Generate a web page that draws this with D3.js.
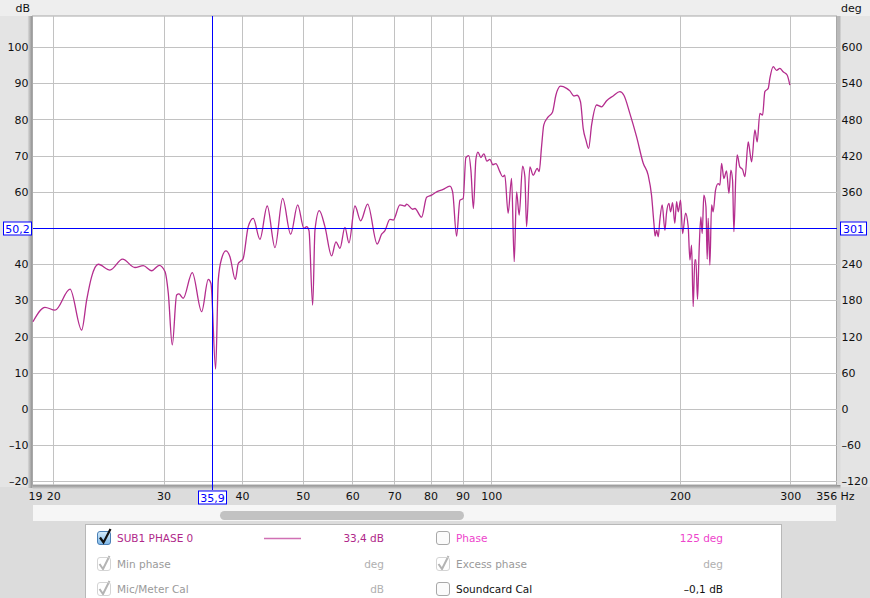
<!DOCTYPE html>
<html><head><meta charset="utf-8">
<script src="https://cdn.jsdelivr.net/npm/d3@7/dist/d3.min.js"></script>
<style>
html,body{margin:0;padding:0;background:#e6e6e6;overflow:hidden;}
svg{display:block;font-family:"DejaVu Sans",sans-serif;}
</style></head><body>
<svg id="c" width="870" height="598"></svg>
<script>
// ---------- data ----------
const freqHz = [18.56,19.4,20.13,21.27,22.2,22.61,23.03,23.6,24.63,25.8,27.0,27.84,28.71,29.52,30.15,30.52,30.97,31.47,31.74,32.24,33.33,34.5,35.35,35.7,36.32,36.67,37.13,37.72,38.28,39.04,39.47,39.71,40.15,40.94,41.7,42.74,43.9,45.17,46.46,47.85,49.1,50.24,50.75,51.18,51.88,52.32,53.15,54.27,55.62,56.51,57.35,58.41,59.28,60.6,61.88,63.49,65.77,66.84,67.66,68.91,69.75,71.49,72.81,73.27,74.9,75.54,77.42,78.86,80.32,81.81,83.81,85.9,86.76,88.04,89.12,90.2,91.1,92.11,92.79,93.65,94.51,95.21,96.26,97.33,98.41,99.5,100.6,101.7,103.2,104.25,105.1,106.4,107.75,108.8,109.75,110.8,112.2,113.15,113.86,115.25,116.65,118.4,119.25,120.3,121.3,123.26,125.27,126.8,129.0,131.9,133.5,135.5,137.1,138.8,140.2,141.6,143.0,144.6,147.3,150.0,152.8,156.5,160.4,162.8,166.4,170.6,174.8,178.0,180.2,181.8,182.6,183.6,184.7,185.8,187.4,189.3,190.4,192.1,193.3,194.7,196.3,197.6,198.8,200.5,202.0,204.2,206.2,207.5,208.8,210.0,211.3,212.1,213.4,214.7,216.0,217.1,218.4,220.1,221.1,221.9,223.3,224.7,226.0,228.0,230.2,231.7,233.1,235.1,237.4,239.5,241.2,242.7,243.9,245.7,246.9,249.3,251.8,254.0,257.1,258.0,260.3,263.5,265.7,268.3,271.0,273.3,276.7,278.4,281.8,285.3,288.8,292.3,296.6,299.6];
const levelDb = [24.1,28.1,27.3,33.1,21.8,30.1,36.6,40.0,38.4,41.4,39.1,39.6,38.2,39.7,38.0,32.0,17.7,31.5,31.8,30.6,37.7,26.9,35.8,34.7,11.0,35.6,41.6,43.7,42.1,35.8,40.2,40.7,41.4,50.4,52.7,46.9,56.1,44.6,58.2,48.3,56.4,49.9,50.4,49.3,28.7,49.4,54.8,50.4,42.3,46.2,44.4,50.2,45.9,56.1,52.0,56.6,45.6,48.3,49.3,52.4,52.2,56.4,56.1,56.6,55.2,55.4,53.0,58.5,59.1,60.0,60.7,61.6,60.0,47.8,57.7,58.2,69.5,70.0,66.0,55.4,69.0,71.0,69.5,70.5,68.5,69.0,67.5,67.8,65.6,64.2,64.6,54.1,63.7,40.7,60.0,53.6,67.1,64.2,50.4,66.9,64.6,66.5,65.6,72.5,78.5,80.7,82.1,86.7,89.2,88.6,87.9,86.5,86.7,84.9,77.5,74.3,72.0,78.5,84.0,83.5,85.2,86.5,87.7,86.7,81.7,75.2,67.9,64.6,59.1,51.3,47.8,49.4,47.6,52.2,56.4,49.4,54.1,56.8,54.5,57.0,51.3,57.3,54.5,57.7,48.5,54.1,50.4,41.2,45.3,28.3,41.2,41.2,30.3,44.4,53.1,48.5,59.1,55.9,41.4,52.7,39.8,56.4,54.5,60.5,62.3,61.9,67.9,63.7,65.8,59.6,66.0,63.3,49.0,65.1,70.2,66.9,66.2,64.2,73.8,72.5,68.3,77.1,73.8,81.7,81.2,87.7,88.6,91.4,94.6,93.6,94.1,93.2,92.3,89.5];
const dbTicks = [-20,-10,0,10,20,30,40,50,60,70,80,90,100];
const degTicks = [-120,-60,0,60,120,180,240,300,360,420,480,540,600];
const freqGrid = [20,30,40,50,60,70,80,90,100,200,300];
const freqLabels = [19,20,30,40,50,60,70,80,90,100,200,300,356];
const cursorHz = 35.9, cursorHzLabel = "35,9";
const cursorDb = 50.2, cursorDbLabel = "50,2", cursorDegLabel = "301";
const legendRows = [
  {check:"blue", name:"SUB1 PHASE 0", nameColor:"#b0288a", sample:true, value:"33,4 dB", valueColor:"#b0288a",
   check2:"box", name2:"Phase", name2Color:"#ee44cc", value2:"125 deg", value2Color:"#ee44cc"},
  {check:"grey", name:"Min phase", nameColor:"#9a9a9a", sample:false, value:"deg", valueColor:"#b0b0b0",
   check2:"grey", name2:"Excess phase", name2Color:"#9a9a9a", value2:"deg", value2Color:"#b0b0b0"},
  {check:"grey", name:"Mic/Meter Cal", nameColor:"#9a9a9a", sample:false, value:"dB", valueColor:"#b0b0b0",
   check2:"box", name2:"Soundcard Cal", name2Color:"#111", value2:"\u20130,1 dB", value2Color:"#111"}
];

// ---------- layout ----------
const svg = d3.select("#c");
const L=32.5, R=836.5, T=16, B=485;
const x = d3.scaleLog().domain([18.53,355.6]).range([L,R]);
const y = d3.scaleLinear().domain([-21,108.6]).range([B,T]);
const yDeg = d3.scaleLinear().domain([-126,651.6]).range([B,T]);
const fmtSigned = d => d<0 ? "\u2013"+(-d) : String(d);

// backgrounds
svg.append("rect").attr("x",0).attr("y",0).attr("width",870).attr("height",598).attr("fill","#e4e4e4");
svg.append("rect").attr("x",0).attr("y",0).attr("width",870).attr("height",16).attr("fill","#eeeeee");
svg.append("rect").attr("x",0).attr("y",487).attr("width",870).attr("height",111).attr("fill","#dcdcdc");
// scroll track
svg.append("rect").attr("x",33).attr("y",505).attr("width",803).attr("height",16).attr("fill","#f6f6f6");
svg.append("rect").attr("x",220).attr("y",511).attr("width",244).attr("height",9).attr("rx",4.5).attr("fill","#c2c2c2");

// plot shadows
const defs = svg.append("defs");
const gL = defs.append("linearGradient").attr("id","shL").attr("x1","0").attr("x2","1");
gL.append("stop").attr("offset","0").attr("stop-color","#e0e0e0");
gL.append("stop").attr("offset","1").attr("stop-color","#8c8c8c");
const gB = defs.append("linearGradient").attr("id","shB").attr("x1","0").attr("x2","0").attr("y1","0").attr("y2","1");
gB.append("stop").attr("offset","0").attr("stop-color","#8c8c8c");
gB.append("stop").attr("offset","1").attr("stop-color","#d8d8d8");
svg.append("rect").attr("x",L-5).attr("y",T).attr("width",5).attr("height",B-T+3).attr("fill","url(#shL)");
svg.append("rect").attr("x",L).attr("y",B).attr("width",R-L+4).attr("height",4).attr("fill","url(#shB)");
svg.append("rect").attr("x",R).attr("y",T).attr("width",4).attr("height",B-T).attr("fill","url(#shB)").attr("opacity",0.5);

// plot area
svg.append("rect").attr("x",L).attr("y",T).attr("width",R-L).attr("height",B-T)
  .attr("fill","#fff").attr("stroke","#a8a8a8").attr("stroke-width",1);

// grid
const grid = svg.append("g").attr("stroke","#c2c2c2").attr("stroke-width",1).attr("shape-rendering","crispEdges");
grid.selectAll(".h").data(dbTicks).join("line")
  .attr("x1",L).attr("x2",R).attr("y1",d=>Math.round(y(d))+0.5).attr("y2",d=>Math.round(y(d))+0.5);
grid.selectAll(".v").data(freqGrid).join("line")
  .attr("y1",T).attr("y2",B).attr("x1",d=>Math.round(x(d))+0.5).attr("x2",d=>Math.round(x(d))+0.5);

// curve
const pts = freqHz.map((f,i)=>[f,levelDb[i]]);
const line = d3.line().x(d=>x(d[0])).y(d=>y(d[1])).curve(d3.curveMonotoneX);
svg.append("path").attr("d",line(pts)).attr("fill","none").attr("stroke","#b42d8e").attr("stroke-width",1.3)
  .attr("stroke-linejoin","round");

// cursors (drawn on top, crisp)
const cx = Math.round(x(cursorHz))+0.5, cy = Math.round(y(cursorDb)+0.6)+0.5;
const cur = svg.append("g").attr("stroke","#0000ff").attr("stroke-width",1).attr("shape-rendering","crispEdges");
cur.append("line").attr("x1",L).attr("x2",R).attr("y1",cy).attr("y2",cy);
cur.append("line").attr("x1",cx).attr("x2",cx).attr("y1",T).attr("y2",B+5);

// axes (labels hidden by cursor boxes are skipped)
const fs = 11;
const axL = svg.append("g").attr("transform",`translate(${L-4},0)`)
  .call(d3.axisLeft(y).tickValues(dbTicks.filter(d=>Math.abs(y(d)-cy)>8)).tickSize(0).tickPadding(0).tickFormat(fmtSigned));
const axR = svg.append("g").attr("transform",`translate(${R+5},0)`)
  .call(d3.axisRight(yDeg).tickValues(degTicks.filter(d=>Math.abs(yDeg(d)-cy)>8)).tickSize(0).tickPadding(0).tickFormat(fmtSigned));
const axB = svg.append("g").attr("transform",`translate(0,${B+7})`)
  .call(d3.axisBottom(x).tickValues(freqLabels).tickSize(0).tickPadding(0).tickFormat(d3.format("d")));
[axL,axR,axB].forEach(a=>{a.select(".domain").remove();a.selectAll("text").attr("fill","#111").style("font-size",fs+"px").style("font-family","'DejaVu Sans',sans-serif");});
axB.selectAll(".tick").filter(d=>d===19).select("text").attr("text-anchor","start").attr("x",28-x(19));
axB.selectAll(".tick").filter(d=>d===356).select("text").attr("text-anchor","end").attr("x",0);
svg.append("text").attr("x",R+4).attr("y",B+15).attr("font-size",fs).attr("fill","#111").text("Hz");
svg.append("text").attr("x",30).attr("y",12).attr("text-anchor","end").attr("font-size",fs).attr("fill","#111").text("dB");
svg.append("text").attr("x",841).attr("y",12).attr("font-size",fs).attr("fill","#111").text("deg");

// cursor labels
function boxLabel(x0, yc, w, txt){
  svg.append("rect").attr("x",x0).attr("y",yc-6.5).attr("width",w).attr("height",13)
    .attr("fill","#fff").attr("stroke","#0000ff").attr("stroke-width",1);
  svg.append("text").attr("x",x0+w/2).attr("y",yc+4).attr("text-anchor","middle")
    .attr("font-size",fs).attr("fill","#0000ff").text(txt);
}
boxLabel(3.5, cy, 28, cursorDbLabel);
boxLabel(840.5, cy, 26, cursorDegLabel);
boxLabel(cx-14, B+12.5, 28, cursorHzLabel);

// legend panel
svg.append("rect").attr("x",85.5).attr("y",524.5).attr("width",696).attr("height",80)
  .attr("fill","#fff").attr("stroke","#b8b8b8");
const rowY = [538, 564, 589];
const gg=defs.append("linearGradient").attr("id","cbBlue").attr("x1",0).attr("x2",0).attr("y1",0).attr("y2",1);
gg.append("stop").attr("offset",0).attr("stop-color","#d6ecfb");gg.append("stop").attr("offset",1).attr("stop-color","#7fb8e8");
function drawCheck(g, kind, x0, yc){
  if(kind==="blue"){
    g.append("rect").attr("x",x0).attr("y",yc-6.5).attr("width",13).attr("height",13).attr("rx",2.5)
      .attr("fill","url(#cbBlue)").attr("stroke","#4a7fb5");
    g.append("path").attr("d",`M${x0+2.5},${yc-0.5} L${x0+6},${yc+4.5} L${x0+13},${yc-9}`)
      .attr("fill","none").attr("stroke","#111").attr("stroke-width",2.2);
  } else if(kind==="grey"){
    g.append("path").attr("d",`M${x0+2},${yc} L${x0+5.5},${yc+5} L${x0+12},${yc-8}`)
      .attr("fill","none").attr("stroke","#b4b4b4").attr("stroke-width",2);
    g.append("rect").attr("x",x0).attr("y",yc-6.5).attr("width",13).attr("height",13).attr("rx",2.5)
      .attr("fill","none").attr("stroke","#d4d4d4");
  } else {
    g.append("rect").attr("x",x0).attr("y",yc-6.5).attr("width",13).attr("height",13).attr("rx",2.5)
      .attr("fill","#fbfbfb").attr("stroke","#a8a8a8");
  }
}
const lg = svg.append("g").style("font-size","10.5px");
legendRows.forEach((r,i)=>{
  const yc = rowY[i];
  drawCheck(lg, r.check, 97.5, yc);
  lg.append("text").attr("x",117).attr("y",yc+4).attr("fill",r.nameColor).text(r.name);
  if(r.sample) lg.append("line").attr("x1",264).attr("x2",301).attr("y1",yc+0.5).attr("y2",yc+0.5).attr("stroke","#d070b4").attr("stroke-width",1.3);
  lg.append("text").attr("x",384).attr("y",yc+4).attr("text-anchor","end").attr("fill",r.valueColor).text(r.value);
  drawCheck(lg, r.check2, 436.5, yc);
  lg.append("text").attr("x",456).attr("y",yc+4).attr("fill",r.name2Color).text(r.name2);
  lg.append("text").attr("x",723).attr("y",yc+4).attr("text-anchor","end").attr("fill",r.value2Color).text(r.value2);
});
</script></body></html>
